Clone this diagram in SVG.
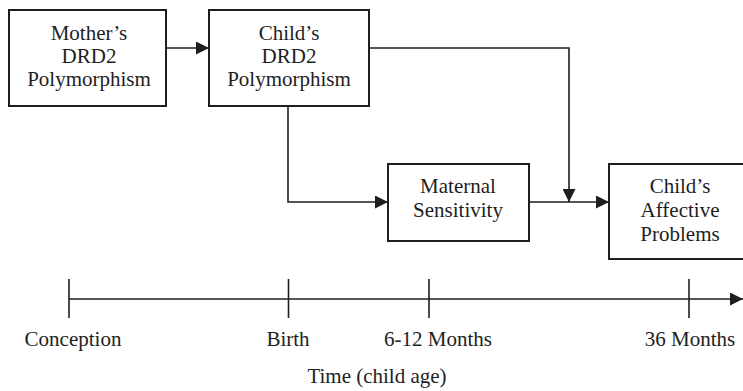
<svg xmlns="http://www.w3.org/2000/svg" width="743" height="391" viewBox="0 0 743 391">
<style>
.box{fill:#fff;stroke:#1e1e1e;stroke-width:2}
.ln{fill:none;stroke:#1e1e1e;stroke-width:1.6}
text{font-family:"Liberation Serif","Times New Roman",serif;font-size:21px;fill:#1e1e1e;text-anchor:middle}
</style>
<defs>
<marker id="ah" markerWidth="13" markerHeight="13" viewBox="0 0 13 13" refX="13" refY="6.5" orient="auto" markerUnits="userSpaceOnUse">
<path d="M0,0 L13,6.5 L0,13 Z" fill="#1e1e1e"/>
</marker>
</defs>
<rect width="743" height="391" fill="#fff"/>
<g id="connectors">
<line class="ln" x1="166" y1="48" x2="209" y2="48" marker-end="url(#ah)"/>
<polyline class="ln" points="369,48 569,48 569,202" marker-end="url(#ah)"/>
<polyline class="ln" points="288,106 288,202 388,202" marker-end="url(#ah)"/>
<line class="ln" x1="529" y1="202" x2="609" y2="202" marker-end="url(#ah)"/>
</g>
<g id="mother">
<rect class="box" x="9" y="10" width="157" height="96"/>
<text x="89" y="40">Mother’s</text>
<text x="89" y="63">DRD2</text>
<text x="89" y="86">Polymorphism</text>
</g>
<g id="child">
<rect class="box" x="209" y="10" width="160" height="96"/>
<text x="289" y="40">Child’s</text>
<text x="289" y="63">DRD2</text>
<text x="289" y="86">Polymorphism</text>
</g>
<g id="maternal">
<rect class="box" x="388" y="164" width="141" height="77"/>
<text x="458" y="193">Maternal</text>
<text x="458" y="217">Sensitivity</text>
</g>
<g id="affective">
<rect class="box" x="609" y="164" width="143" height="95"/>
<text x="680" y="193">Child’s</text>
<text x="680" y="217">Affective</text>
<text x="680" y="241">Problems</text>
</g>
<g id="timeline">
<line class="ln" x1="69" y1="299" x2="743" y2="299" marker-end="url(#ah)"/>
<line class="ln" x1="69" y1="279" x2="69" y2="318"/>
<line class="ln" x1="288.5" y1="279" x2="288.5" y2="318"/>
<line class="ln" x1="429" y1="279" x2="429" y2="318"/>
<line class="ln" x1="689" y1="279" x2="689" y2="318"/>
<text x="73" y="346">Conception</text>
<text x="288" y="346">Birth</text>
<text x="438" y="346">6-12 Months</text>
<text x="690" y="346">36 Months</text>
<text x="377" y="383">Time (child age)</text>
</g>
</svg>
